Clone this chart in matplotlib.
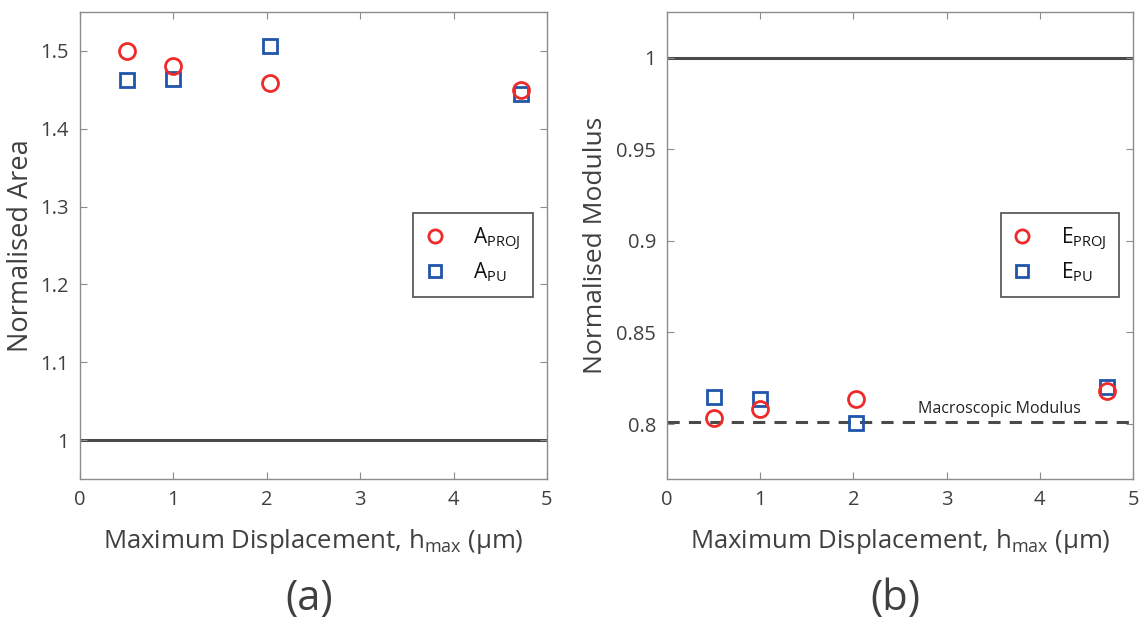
import matplotlib
matplotlib.use("Agg")
import matplotlib.pyplot as plt
from matplotlib.lines import Line2D

plt.rcParams['font.family'] = ['Open Sans', 'DejaVu Sans']
plt.rcParams['mathtext.fontset'] = 'custom'
plt.rcParams['mathtext.rm'] = 'Open Sans'
plt.rcParams['mathtext.it'] = 'Open Sans'

# Maximum displacement (um)
h_max = [0.5, 1.0, 2.03, 4.72]

# Normalised area
a_proj = [1.500, 1.480, 1.459, 1.450]
a_pu = [1.462, 1.464, 1.506, 1.445]

# Normalised modulus
e_proj = [0.8033, 0.8084, 0.8139, 0.8182]
e_pu = [0.8150, 0.8138, 0.8005, 0.8200]
macro_modulus = 0.801

TEXT = '#404040'
SPINE = '#8c8c8c'
RED = '#ee2a2a'
BLUE = '#1f55aa'

fig = plt.figure(figsize=(11.41, 6.22), dpi=100)
ax1 = fig.add_axes([0.0701, 0.2299, 0.4093, 0.7508])
ax2 = fig.add_axes([0.5846, 0.2299, 0.4084, 0.7508])


def style(ax):
    for s in ax.spines.values():
        s.set_color(SPINE)
        s.set_linewidth(1.0)
    ax.tick_params(direction='in', top=True, right=True, length=5,
                   color=SPINE, labelcolor=TEXT, labelsize=14.5, pad=8)
    ax.set_xlim(0, 5)
    ax.set_xticks([0, 1, 2, 3, 4, 5])
    ax.set_xlabel('Maximum Displacement, h$_{\\mathregular{max}}$ (μm)',
                  fontsize=18.5, color=TEXT, labelpad=12)


def legend(ax, labels):
    handles = [
        Line2D([], [], ls='none', marker='o', ms=9.5, mfc='none', mec=RED, mew=2),
        Line2D([], [], ls='none', marker='s', ms=8, mfc='none', mec=BLUE, mew=2),
    ]
    leg = ax.legend(handles, labels, loc='upper right', bbox_to_anchor=(0.970, 0.570),
                    fontsize=15, frameon=True, fancybox=False, borderpad=0.6,
                    handlelength=0.9, handletextpad=1.4, labelspacing=0.4,
                    borderaxespad=0)
    leg.get_frame().set_edgecolor('#333333')
    leg.get_frame().set_linewidth(1.3)
    for t in leg.get_texts():
        t.set_color('#111111')


# (a) normalised area
ax1.axhline(1.0, color='#4a4a4a', lw=2.2, zorder=1)
ax1.plot(h_max, a_proj, ls='none', marker='o', ms=11.5, mfc='none', mec=RED, mew=2, zorder=3)
ax1.plot(h_max, a_pu, ls='none', marker='s', ms=9.5, mfc='none', mec=BLUE, mew=2, zorder=2)
ax1.set_ylim(0.95, 1.55)
ax1.set_yticks([1, 1.1, 1.2, 1.3, 1.4, 1.5])
ax1.set_yticklabels(['1', '1.1', '1.2', '1.3', '1.4', '1.5'])
ax1.set_ylabel('Normalised Area', fontsize=19.5, color=TEXT, labelpad=4)
style(ax1)
legend(ax1, ['A$_{\\mathregular{PROJ}}$', 'A$_{\\mathregular{PU}}$'])
ax1.text(0.49, -0.258, '(a)', transform=ax1.transAxes, ha='center', va='center',
         fontsize=30, color=TEXT)

# (b) normalised modulus
ax2.axhline(1.0, color='#4a4a4a', lw=2.2, zorder=1)
ax2.axhline(macro_modulus, color='#4a4a4a', lw=2.2, ls=(0, (4, 3)), zorder=1)
ax2.text(3.57, macro_modulus + 0.0028, 'Macroscopic Modulus', ha='center', va='bottom',
         fontsize=11.5, color='#222222')
ax2.plot(h_max, e_proj, ls='none', marker='o', ms=11.5, mfc='none', mec=RED, mew=2, zorder=3)
ax2.plot(h_max, e_pu, ls='none', marker='s', ms=9.5, mfc='none', mec=BLUE, mew=2, zorder=2)
ax2.set_ylim(0.77, 1.025)
ax2.set_yticks([0.8, 0.85, 0.9, 0.95, 1.0])
ax2.set_yticklabels(['0.8', '0.85', '0.9', '0.95', '1'])
ax2.set_ylabel('Normalised Modulus', fontsize=19, color=TEXT, labelpad=6)
style(ax2)
legend(ax2, ['E$_{\\mathregular{PROJ}}$', 'E$_{\\mathregular{PU}}$'])
ax2.text(0.49, -0.258, '(b)', transform=ax2.transAxes, ha='center', va='center',
         fontsize=30, color=TEXT)

fig.savefig('out.png', dpi=100)
